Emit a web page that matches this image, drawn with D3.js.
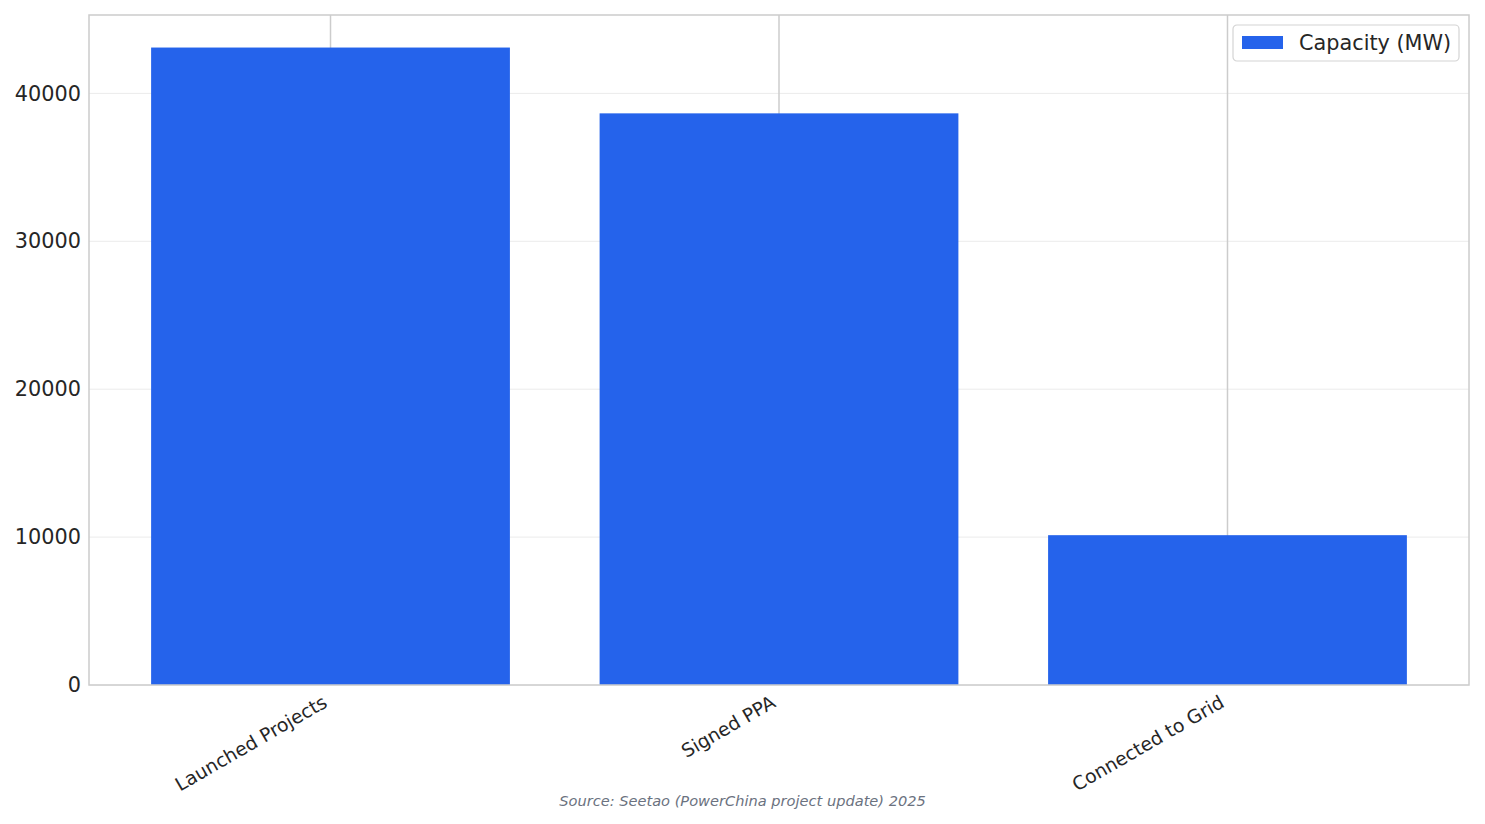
<!DOCTYPE html>
<html>
<head>
<meta charset="utf-8">
<script src="https://cdn.jsdelivr.net/npm/d3@7"></script>
<style>
  body { margin: 0; background: #fff; }
  svg { display: block; font-family: "DejaVu Sans", sans-serif; }
</style>
</head>
<body>
<svg id="chart"></svg>
<script>
const categories = ['Launched Projects', 'Signed PPA', 'Connected to Grid'];
const capacity = [43100, 38650, 10130];
const yTicks = [0, 10000, 20000, 30000, 40000];
const seriesName = 'Capacity (MW)';
const source = 'Source: Seetao (PowerChina project update) 2025';

const width = 1485, height = 824;
const margin = { top: 15, right: 16, bottom: 139, left: 89 };
const barColor = '#2563eb';

const svg = d3.select('#chart')
  .attr('width', width)
  .attr('height', height);

const x = d3.scaleBand()
  .domain(categories)
  .range([margin.left, width - margin.right])
  .paddingInner(0.2)
  .paddingOuter(0.1385);

const y = d3.scaleLinear()
  .domain([0, 45300])
  .range([height - margin.bottom, margin.top]);

// horizontal grid
svg.append('g')
  .selectAll('line')
  .data(yTicks)
  .enter().append('line')
  .attr('x1', margin.left)
  .attr('x2', width - margin.right)
  .attr('y1', d => y(d))
  .attr('y2', d => y(d))
  .attr('stroke', '#ebebeb')
  .attr('stroke-width', 1);

// vertical grid at category centres
svg.append('g')
  .selectAll('line')
  .data(categories)
  .enter().append('line')
  .attr('x1', d => x(d) + x.bandwidth() / 2)
  .attr('x2', d => x(d) + x.bandwidth() / 2)
  .attr('y1', margin.top)
  .attr('y2', height - margin.bottom)
  .attr('stroke', '#cccccc')
  .attr('stroke-width', 1.5);

// bars
svg.selectAll('.bar')
  .data(capacity)
  .enter().append('rect')
  .attr('class', 'bar')
  .attr('x', (d, i) => x(categories[i]))
  .attr('y', d => y(d))
  .attr('width', x.bandwidth())
  .attr('height', d => y(0) - y(d))
  .attr('fill', barColor);

// frame
svg.append('rect')
  .attr('x', margin.left)
  .attr('y', margin.top)
  .attr('width', width - margin.right - margin.left)
  .attr('height', height - margin.bottom - margin.top)
  .attr('fill', 'none')
  .attr('stroke', '#cccccc')
  .attr('stroke-width', 1.5);

// y axis
const yAxis = svg.append('g')
  .attr('transform', `translate(${margin.left},0)`)
  .call(d3.axisLeft(y).tickValues(yTicks).tickSize(0).tickPadding(8).tickFormat(d3.format('d')));
yAxis.select('.domain').remove();
yAxis.selectAll('text')
  .attr('font-size', 20.8)
  .attr('font-family', 'DejaVu Sans')
  .attr('fill', '#262626');

// x axis
const xAxis = svg.append('g')
  .attr('transform', `translate(0,${height - margin.bottom})`)
  .call(d3.axisBottom(x).tickSize(0).tickPadding(0));
xAxis.select('.domain').remove();
xAxis.selectAll('text')
  .attr('font-size', 18.8)
  .attr('font-family', 'DejaVu Sans')
  .attr('fill', '#262626')
  .attr('text-anchor', 'end')
  .attr('dy', 0)
  .attr('y', 0)
  .attr('transform', 'translate(-2,21) rotate(-30)');

// legend
const legend = svg.append('g').attr('transform', 'translate(1233,25)');
legend.append('rect')
  .attr('width', 226)
  .attr('height', 36)
  .attr('rx', 4)
  .attr('fill', '#fff')
  .attr('stroke', '#d4d4d4')
  .attr('stroke-width', 1.2);
legend.append('rect')
  .attr('x', 9)
  .attr('y', 11)
  .attr('width', 41)
  .attr('height', 13)
  .attr('fill', barColor);
legend.append('text')
  .attr('x', 66)
  .attr('y', 25)
  .attr('font-size', 20.8)
  .attr('fill', '#262626')
  .text(seriesName);

// source note
svg.append('text')
  .attr('x', width / 2)
  .attr('y', 806)
  .attr('text-anchor', 'middle')
  .attr('font-size', 14.6)
  .attr('font-style', 'italic')
  .attr('fill', '#6b7280')
  .text(source);
</script>
</body>
</html>
